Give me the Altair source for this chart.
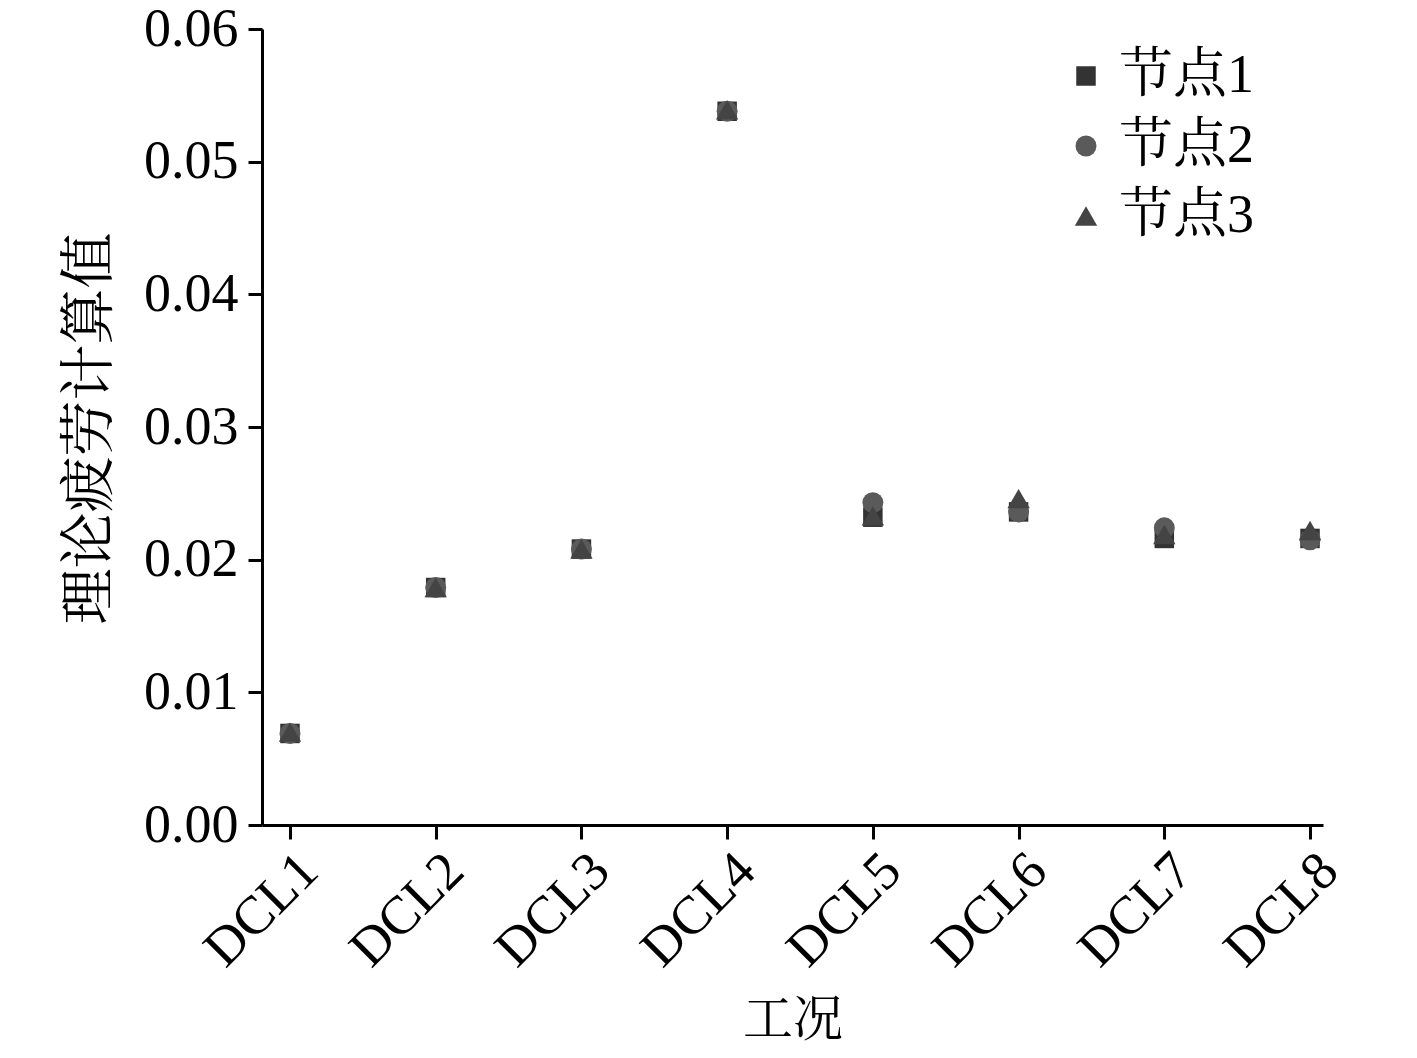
import altair as alt
import pandas as pd

categories = ["DCL1", "DCL2", "DCL3", "DCL4", "DCL5", "DCL6", "DCL7", "DCL8"]
series_names = ["节点1", "节点2", "节点3"]
node1 = [0.0069, 0.0179, 0.0208, 0.0538, 0.0232, 0.0236, 0.0216, 0.0216]
node2 = [0.0069, 0.0179, 0.0208, 0.0538, 0.0243, 0.0236, 0.0224, 0.0215]
node3 = [0.0070, 0.0179, 0.0208, 0.0539, 0.0233, 0.0246, 0.0219, 0.0222]
y_ticks = [0.0, 0.01, 0.02, 0.03, 0.04, 0.05, 0.06]

rows = []
for name, vals in zip(series_names, [node1, node2, node3]):
    for i, (c, v) in enumerate(zip(categories, vals)):
        rows.append({"idx": i + 1, "cat": c, "value": v, "series": name})
df = pd.DataFrame(rows)

FONT = "Liberation Serif, Noto Serif CJK SC, Noto Sans CJK SC"
label_expr = "[" + ",".join("'%s'" % c for c in categories) + "][datum.value - 1]"

leg = dict(title=None, orient="none", legendX=797, legendY=20)

chart = alt.Chart(df).mark_point(filled=True, opacity=1).encode(
    x=alt.X("idx:Q",
            scale=alt.Scale(domain=[0.808, 8.089], nice=False, zero=False),
            axis=alt.Axis(values=list(range(1, len(categories) + 1)), labelExpr=label_expr,
                          title="工况", labelAngle=-45, labelAlign="right", labelBaseline="top",
                          labelPadding=4, titleY=195, titleBaseline="middle",
                          titleFontSize=50)),
    y=alt.Y("value:Q",
            scale=alt.Scale(domain=[0, 0.06], nice=False),
            axis=alt.Axis(values=y_ticks, format=".2f", title="理论疲劳计算值",
                          titleX=-173, titleY=399, titleAngle=-90, titleAlign="center",
                          titleBaseline="middle", labelPadding=10, titleFontSize=56)),
    color=alt.Color("series:N", scale=alt.Scale(domain=series_names,
                                                range=["#333333", "#5a5a5a", "#444444"]),
                    legend=alt.Legend(**leg)),
    shape=alt.Shape("series:N", scale=alt.Scale(domain=series_names,
                                                range=["square", "circle", "triangle-up"]),
                    legend=alt.Legend(**leg)),
    size=alt.Size("series:N", scale=alt.Scale(domain=series_names, range=[380, 500, 800]),
                  legend=alt.Legend(**leg)),
    order=alt.Order("series:N"),
).properties(
    width=1061, height=796,
    autosize=alt.AutoSizeParams(type="none"),
    padding={"left": 254, "top": 21, "right": 86, "bottom": 225},
).configure_view(stroke=None).configure_axis(
    grid=False, domainColor="black", domainWidth=3, tickColor="black", tickWidth=3,
    tickSize=14, labelFont=FONT, labelFontSize=54, labelColor="black",
    titleFont=FONT, titleColor="black", titleFontWeight="normal",
).configure_legend(
    labelFont=FONT, labelFontSize=54, labelColor="black", rowPadding=16, labelOffset=6,
    symbolStrokeWidth=0,
)

chart.save("out.html", embed_options={"renderer": "svg", "actions": False})
